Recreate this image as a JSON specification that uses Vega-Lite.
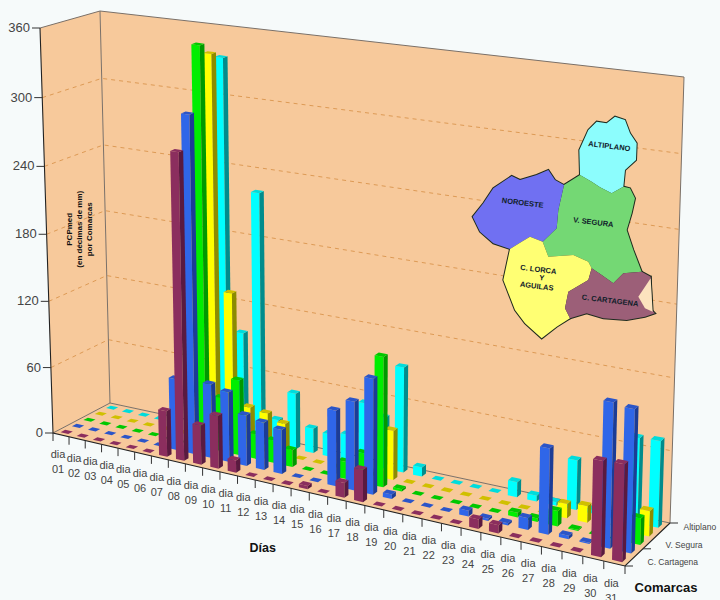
{"$schema":"https://vega.github.io/schema/vega-lite/v6.json","width":720,"height":600,"padding":0,"autosize":{"type":"none"},"background":"#F6FAFA","config":{"view":{"stroke":null}},
"data":{"values":[
{"capa":"pared","id":"suelo","dia":0.5,"com":-0.5,"valor":0,"orden":0},{"capa":"pared","id":"suelo","dia":31.5,"com":-0.5,"valor":0,"orden":1},{"capa":"pared","id":"suelo","dia":31.5,"com":4.5,"valor":0,"orden":2},{"capa":"pared","id":"suelo","dia":0.5,"com":4.5,"valor":0,"orden":3},
{"capa":"pared","id":"lateral","dia":0.5,"com":-0.5,"valor":0,"orden":0},{"capa":"pared","id":"lateral","dia":0.5,"com":4.5,"valor":0,"orden":1},{"capa":"pared","id":"lateral","dia":0.5,"com":4.5,"valor":360,"orden":2},{"capa":"pared","id":"lateral","dia":0.5,"com":-0.5,"valor":360,"orden":3},
{"capa":"pared","id":"fondo","dia":0.5,"com":4.5,"valor":0,"orden":0},{"capa":"pared","id":"fondo","dia":31.5,"com":4.5,"valor":0,"orden":1},{"capa":"pared","id":"fondo","dia":31.5,"com":4.5,"valor":360,"orden":2},{"capa":"pared","id":"fondo","dia":0.5,"com":4.5,"valor":360,"orden":3},
{"capa":"rejilla","id":"g60","dia":0.5,"com":-0.5,"valor":60,"orden":0},{"capa":"rejilla","id":"g60","dia":0.5,"com":4.5,"valor":60,"orden":1},{"capa":"rejilla","id":"g60","dia":31.5,"com":4.5,"valor":60,"orden":2},
{"capa":"rejilla","id":"g120","dia":0.5,"com":-0.5,"valor":120,"orden":0},{"capa":"rejilla","id":"g120","dia":0.5,"com":4.5,"valor":120,"orden":1},{"capa":"rejilla","id":"g120","dia":31.5,"com":4.5,"valor":120,"orden":2},
{"capa":"rejilla","id":"g180","dia":0.5,"com":-0.5,"valor":180,"orden":0},{"capa":"rejilla","id":"g180","dia":0.5,"com":4.5,"valor":180,"orden":1},{"capa":"rejilla","id":"g180","dia":31.5,"com":4.5,"valor":180,"orden":2},
{"capa":"rejilla","id":"g240","dia":0.5,"com":-0.5,"valor":240,"orden":0},{"capa":"rejilla","id":"g240","dia":0.5,"com":4.5,"valor":240,"orden":1},{"capa":"rejilla","id":"g240","dia":31.5,"com":4.5,"valor":240,"orden":2},
{"capa":"rejilla","id":"g300","dia":0.5,"com":-0.5,"valor":300,"orden":0},{"capa":"rejilla","id":"g300","dia":0.5,"com":4.5,"valor":300,"orden":1},{"capa":"rejilla","id":"g300","dia":31.5,"com":4.5,"valor":300,"orden":2},
{"capa":"borde","id":"b1","dia":0.5,"com":-0.5,"valor":360,"orden":0},{"capa":"borde","id":"b1","dia":0.5,"com":4.5,"valor":360,"orden":1},{"capa":"borde","id":"b1","dia":31.5,"com":4.5,"valor":360,"orden":2},{"capa":"borde","id":"b1","dia":31.5,"com":4.5,"valor":0,"orden":3},{"capa":"borde","id":"b1","dia":0.5,"com":4.5,"valor":0,"orden":4},{"capa":"borde","id":"b1","dia":0.5,"com":-0.5,"valor":0,"orden":5},
{"capa":"borde","id":"b2","dia":0.5,"com":4.5,"valor":360,"orden":0},{"capa":"borde","id":"b2","dia":0.5,"com":4.5,"valor":0,"orden":1},
{"capa":"eje","id":"e1","dia":0.5,"com":-0.5,"valor":360,"orden":0},{"capa":"eje","id":"e1","dia":0.5,"com":-0.5,"valor":0,"orden":1},{"capa":"eje","id":"e1","dia":31.5,"com":-0.5,"valor":0,"orden":2},{"capa":"eje","id":"e1","dia":31.5,"com":4.5,"valor":0,"orden":3},
{"capa":"ticky","dia":0.5,"com":-0.5,"valor":0,"texto":"0"},{"capa":"ticky","dia":0.5,"com":-0.5,"valor":60,"texto":"60"},{"capa":"ticky","dia":0.5,"com":-0.5,"valor":120,"texto":"120"},{"capa":"ticky","dia":0.5,"com":-0.5,"valor":180,"texto":"180"},{"capa":"ticky","dia":0.5,"com":-0.5,"valor":240,"texto":"240"},{"capa":"ticky","dia":0.5,"com":-0.5,"valor":300,"texto":"300"},{"capa":"ticky","dia":0.5,"com":-0.5,"valor":360,"texto":"360"},
{"capa":"tickx","dia":0.5,"com":-0.5,"valor":0},{"capa":"tickx","dia":1.5,"com":-0.5,"valor":0},{"capa":"tickx","dia":2.5,"com":-0.5,"valor":0},{"capa":"tickx","dia":3.5,"com":-0.5,"valor":0},{"capa":"tickx","dia":4.5,"com":-0.5,"valor":0},{"capa":"tickx","dia":5.5,"com":-0.5,"valor":0},{"capa":"tickx","dia":6.5,"com":-0.5,"valor":0},{"capa":"tickx","dia":7.5,"com":-0.5,"valor":0},{"capa":"tickx","dia":8.5,"com":-0.5,"valor":0},{"capa":"tickx","dia":9.5,"com":-0.5,"valor":0},{"capa":"tickx","dia":10.5,"com":-0.5,"valor":0},{"capa":"tickx","dia":11.5,"com":-0.5,"valor":0},{"capa":"tickx","dia":12.5,"com":-0.5,"valor":0},{"capa":"tickx","dia":13.5,"com":-0.5,"valor":0},{"capa":"tickx","dia":14.5,"com":-0.5,"valor":0},{"capa":"tickx","dia":15.5,"com":-0.5,"valor":0},{"capa":"tickx","dia":16.5,"com":-0.5,"valor":0},{"capa":"tickx","dia":17.5,"com":-0.5,"valor":0},{"capa":"tickx","dia":18.5,"com":-0.5,"valor":0},{"capa":"tickx","dia":19.5,"com":-0.5,"valor":0},{"capa":"tickx","dia":20.5,"com":-0.5,"valor":0},{"capa":"tickx","dia":21.5,"com":-0.5,"valor":0},{"capa":"tickx","dia":22.5,"com":-0.5,"valor":0},{"capa":"tickx","dia":23.5,"com":-0.5,"valor":0},{"capa":"tickx","dia":24.5,"com":-0.5,"valor":0},{"capa":"tickx","dia":25.5,"com":-0.5,"valor":0},{"capa":"tickx","dia":26.5,"com":-0.5,"valor":0},{"capa":"tickx","dia":27.5,"com":-0.5,"valor":0},{"capa":"tickx","dia":28.5,"com":-0.5,"valor":0},{"capa":"tickx","dia":29.5,"com":-0.5,"valor":0},{"capa":"tickx","dia":30.5,"com":-0.5,"valor":0},{"capa":"tickx","dia":31.5,"com":-0.5,"valor":0},
{"capa":"etx","dia":1,"com":-0.5,"valor":0,"texto":"dia\n01"},{"capa":"etx","dia":2,"com":-0.5,"valor":0,"texto":"dia\n02"},{"capa":"etx","dia":3,"com":-0.5,"valor":0,"texto":"dia\n03"},{"capa":"etx","dia":4,"com":-0.5,"valor":0,"texto":"dia\n04"},{"capa":"etx","dia":5,"com":-0.5,"valor":0,"texto":"dia\n05"},{"capa":"etx","dia":6,"com":-0.5,"valor":0,"texto":"dia\n06"},{"capa":"etx","dia":7,"com":-0.5,"valor":0,"texto":"dia\n07"},{"capa":"etx","dia":8,"com":-0.5,"valor":0,"texto":"dia\n08"},{"capa":"etx","dia":9,"com":-0.5,"valor":0,"texto":"dia\n09"},{"capa":"etx","dia":10,"com":-0.5,"valor":0,"texto":"dia\n10"},{"capa":"etx","dia":11,"com":-0.5,"valor":0,"texto":"dia\n11"},{"capa":"etx","dia":12,"com":-0.5,"valor":0,"texto":"dia\n12"},{"capa":"etx","dia":13,"com":-0.5,"valor":0,"texto":"dia\n13"},{"capa":"etx","dia":14,"com":-0.5,"valor":0,"texto":"dia\n14"},{"capa":"etx","dia":15,"com":-0.5,"valor":0,"texto":"dia\n15"},{"capa":"etx","dia":16,"com":-0.5,"valor":0,"texto":"dia\n16"},{"capa":"etx","dia":17,"com":-0.5,"valor":0,"texto":"dia\n17"},{"capa":"etx","dia":18,"com":-0.5,"valor":0,"texto":"dia\n18"},{"capa":"etx","dia":19,"com":-0.5,"valor":0,"texto":"dia\n19"},{"capa":"etx","dia":20,"com":-0.5,"valor":0,"texto":"dia\n20"},{"capa":"etx","dia":21,"com":-0.5,"valor":0,"texto":"dia\n21"},{"capa":"etx","dia":22,"com":-0.5,"valor":0,"texto":"dia\n22"},{"capa":"etx","dia":23,"com":-0.5,"valor":0,"texto":"dia\n23"},{"capa":"etx","dia":24,"com":-0.5,"valor":0,"texto":"dia\n24"},{"capa":"etx","dia":25,"com":-0.5,"valor":0,"texto":"dia\n25"},{"capa":"etx","dia":26,"com":-0.5,"valor":0,"texto":"dia\n26"},{"capa":"etx","dia":27,"com":-0.5,"valor":0,"texto":"dia\n27"},{"capa":"etx","dia":28,"com":-0.5,"valor":0,"texto":"dia\n28"},{"capa":"etx","dia":29,"com":-0.5,"valor":0,"texto":"dia\n29"},{"capa":"etx","dia":30,"com":-0.5,"valor":0,"texto":"dia\n30"},{"capa":"etx","dia":31,"com":-0.5,"valor":0,"texto":"dia\n31"},
{"capa":"etz","dia":31.5,"com":0,"valor":0,"texto":"C. Cartagena"},{"capa":"etz","dia":31.5,"com":2,"valor":0,"texto":"V. Segura"},{"capa":"etz","dia":31.5,"com":4,"valor":0,"texto":"Altiplano"},
{"capa":"tickz","dia":31.5,"com":-0.5,"valor":0},{"capa":"tickz","dia":31.5,"com":1.5,"valor":0},{"capa":"tickz","dia":31.5,"com":4.5,"valor":0},
{"capa":"tdias","dia":13.2,"com":-0.5,"valor":0,"texto":"Días"},{"capa":"tcom","dia":31.5,"com":-0.5,"valor":0,"texto":"Comarcas"},
{"capa":"ty","dia":0.5,"com":1.5,"valor":176,"texto":"PCPmed\n(en décimas de mm)\npor Comarcas"},
{"capa":"barra","dia":1,"comarca":"Altiplano","valor":0},{"capa":"barra","dia":2,"comarca":"Altiplano","valor":0},{"capa":"barra","dia":3,"comarca":"Altiplano","valor":0},{"capa":"barra","dia":4,"comarca":"Altiplano","valor":0},{"capa":"barra","dia":5,"comarca":"Altiplano","valor":0},{"capa":"barra","dia":6,"comarca":"Altiplano","valor":0},{"capa":"barra","dia":7,"comarca":"Altiplano","valor":0},{"capa":"barra","dia":8,"comarca":"Altiplano","valor":335},{"capa":"barra","dia":9,"comarca":"Altiplano","valor":95},{"capa":"barra","dia":10,"comarca":"Altiplano","valor":222},{"capa":"barra","dia":11,"comarca":"Altiplano","valor":23},{"capa":"barra","dia":12,"comarca":"Altiplano","valor":50},{"capa":"barra","dia":13,"comarca":"Altiplano","valor":22},{"capa":"barra","dia":14,"comarca":"Altiplano","valor":20},{"capa":"barra","dia":15,"comarca":"Altiplano","valor":23},{"capa":"barra","dia":16,"comarca":"Altiplano","valor":54},{"capa":"barra","dia":17,"comarca":"Altiplano","valor":45},{"capa":"barra","dia":18,"comarca":"Altiplano","valor":92},{"capa":"barra","dia":19,"comarca":"Altiplano","valor":8},{"capa":"barra","dia":20,"comarca":"Altiplano","valor":0},{"capa":"barra","dia":21,"comarca":"Altiplano","valor":0},{"capa":"barra","dia":22,"comarca":"Altiplano","valor":0},{"capa":"barra","dia":23,"comarca":"Altiplano","valor":0},{"capa":"barra","dia":24,"comarca":"Altiplano","valor":13},{"capa":"barra","dia":25,"comarca":"Altiplano","valor":5},{"capa":"barra","dia":26,"comarca":"Altiplano","valor":3},{"capa":"barra","dia":27,"comarca":"Altiplano","valor":42},{"capa":"barra","dia":28,"comarca":"Altiplano","valor":3},{"capa":"barra","dia":29,"comarca":"Altiplano","valor":0},{"capa":"barra","dia":30,"comarca":"Altiplano","valor":71},{"capa":"barra","dia":31,"comarca":"Altiplano","valor":72},
{"capa":"barra","dia":1,"comarca":"Noroeste","valor":0},{"capa":"barra","dia":2,"comarca":"Noroeste","valor":0},{"capa":"barra","dia":3,"comarca":"Noroeste","valor":0},{"capa":"barra","dia":4,"comarca":"Noroeste","valor":0},{"capa":"barra","dia":5,"comarca":"Noroeste","valor":0},{"capa":"barra","dia":6,"comarca":"Noroeste","valor":0},{"capa":"barra","dia":7,"comarca":"Noroeste","valor":0},{"capa":"barra","dia":8,"comarca":"Noroeste","valor":342},{"capa":"barra","dia":9,"comarca":"Noroeste","valor":136},{"capa":"barra","dia":10,"comarca":"Noroeste","valor":37},{"capa":"barra","dia":11,"comarca":"Noroeste","valor":35},{"capa":"barra","dia":12,"comarca":"Noroeste","valor":29},{"capa":"barra","dia":13,"comarca":"Noroeste","valor":0},{"capa":"barra","dia":14,"comarca":"Noroeste","valor":0},{"capa":"barra","dia":15,"comarca":"Noroeste","valor":0},{"capa":"barra","dia":16,"comarca":"Noroeste","valor":0},{"capa":"barra","dia":17,"comarca":"Noroeste","valor":0},{"capa":"barra","dia":18,"comarca":"Noroeste","valor":43},{"capa":"barra","dia":19,"comarca":"Noroeste","valor":0},{"capa":"barra","dia":20,"comarca":"Noroeste","valor":0},{"capa":"barra","dia":21,"comarca":"Noroeste","valor":0},{"capa":"barra","dia":22,"comarca":"Noroeste","valor":0},{"capa":"barra","dia":23,"comarca":"Noroeste","valor":0},{"capa":"barra","dia":24,"comarca":"Noroeste","valor":0},{"capa":"barra","dia":25,"comarca":"Noroeste","valor":0},{"capa":"barra","dia":26,"comarca":"Noroeste","valor":0},{"capa":"barra","dia":27,"comarca":"Noroeste","valor":12},{"capa":"barra","dia":28,"comarca":"Noroeste","valor":14},{"capa":"barra","dia":29,"comarca":"Noroeste","valor":0},{"capa":"barra","dia":30,"comarca":"Noroeste","valor":0},{"capa":"barra","dia":31,"comarca":"Noroeste","valor":21},
{"capa":"barra","dia":1,"comarca":"V. Segura","valor":0},{"capa":"barra","dia":2,"comarca":"V. Segura","valor":0},{"capa":"barra","dia":3,"comarca":"V. Segura","valor":0},{"capa":"barra","dia":4,"comarca":"V. Segura","valor":0},{"capa":"barra","dia":5,"comarca":"V. Segura","valor":0},{"capa":"barra","dia":6,"comarca":"V. Segura","valor":0},{"capa":"barra","dia":7,"comarca":"V. Segura","valor":0},{"capa":"barra","dia":8,"comarca":"V. Segura","valor":353},{"capa":"barra","dia":9,"comarca":"V. Segura","valor":48},{"capa":"barra","dia":10,"comarca":"V. Segura","valor":67},{"capa":"barra","dia":11,"comarca":"V. Segura","valor":22},{"capa":"barra","dia":12,"comarca":"V. Segura","valor":20},{"capa":"barra","dia":13,"comarca":"V. Segura","valor":15},{"capa":"barra","dia":14,"comarca":"V. Segura","valor":0},{"capa":"barra","dia":15,"comarca":"V. Segura","valor":0},{"capa":"barra","dia":16,"comarca":"V. Segura","valor":15},{"capa":"barra","dia":17,"comarca":"V. Segura","valor":26},{"capa":"barra","dia":18,"comarca":"V. Segura","valor":113},{"capa":"barra","dia":19,"comarca":"V. Segura","valor":2},{"capa":"barra","dia":20,"comarca":"V. Segura","valor":0},{"capa":"barra","dia":21,"comarca":"V. Segura","valor":0},{"capa":"barra","dia":22,"comarca":"V. Segura","valor":0},{"capa":"barra","dia":23,"comarca":"V. Segura","valor":0},{"capa":"barra","dia":24,"comarca":"V. Segura","valor":0},{"capa":"barra","dia":25,"comarca":"V. Segura","valor":4},{"capa":"barra","dia":26,"comarca":"V. Segura","valor":3},{"capa":"barra","dia":27,"comarca":"V. Segura","valor":13},{"capa":"barra","dia":28,"comarca":"V. Segura","valor":1},{"capa":"barra","dia":29,"comarca":"V. Segura","valor":0},{"capa":"barra","dia":30,"comarca":"V. Segura","valor":0},{"capa":"barra","dia":31,"comarca":"V. Segura","valor":22},
{"capa":"barra","dia":1,"comarca":"C. Lorca","valor":0},{"capa":"barra","dia":2,"comarca":"C. Lorca","valor":0},{"capa":"barra","dia":3,"comarca":"C. Lorca","valor":0},{"capa":"barra","dia":4,"comarca":"C. Lorca","valor":0},{"capa":"barra","dia":5,"comarca":"C. Lorca","valor":0},{"capa":"barra","dia":6,"comarca":"C. Lorca","valor":0},{"capa":"barra","dia":7,"comarca":"C. Lorca","valor":64},{"capa":"barra","dia":8,"comarca":"C. Lorca","valor":298},{"capa":"barra","dia":9,"comarca":"C. Lorca","valor":66},{"capa":"barra","dia":10,"comarca":"C. Lorca","valor":62},{"capa":"barra","dia":11,"comarca":"C. Lorca","valor":45},{"capa":"barra","dia":12,"comarca":"C. Lorca","valor":42},{"capa":"barra","dia":13,"comarca":"C. Lorca","valor":39},{"capa":"barra","dia":14,"comarca":"C. Lorca","valor":0},{"capa":"barra","dia":15,"comarca":"C. Lorca","valor":0},{"capa":"barra","dia":16,"comarca":"C. Lorca","valor":66},{"capa":"barra","dia":17,"comarca":"C. Lorca","valor":77},{"capa":"barra","dia":18,"comarca":"C. Lorca","valor":100},{"capa":"barra","dia":19,"comarca":"C. Lorca","valor":4},{"capa":"barra","dia":20,"comarca":"C. Lorca","valor":0},{"capa":"barra","dia":21,"comarca":"C. Lorca","valor":0},{"capa":"barra","dia":22,"comarca":"C. Lorca","valor":0},{"capa":"barra","dia":23,"comarca":"C. Lorca","valor":5},{"capa":"barra","dia":24,"comarca":"C. Lorca","valor":2},{"capa":"barra","dia":25,"comarca":"C. Lorca","valor":2},{"capa":"barra","dia":26,"comarca":"C. Lorca","valor":10},{"capa":"barra","dia":27,"comarca":"C. Lorca","valor":72},{"capa":"barra","dia":28,"comarca":"C. Lorca","valor":3},{"capa":"barra","dia":29,"comarca":"C. Lorca","valor":1},{"capa":"barra","dia":30,"comarca":"C. Lorca","valor":120},{"capa":"barra","dia":31,"comarca":"C. Lorca","valor":118},
{"capa":"barra","dia":1,"comarca":"C. Cartagena","valor":0},{"capa":"barra","dia":2,"comarca":"C. Cartagena","valor":0},{"capa":"barra","dia":3,"comarca":"C. Cartagena","valor":0},{"capa":"barra","dia":4,"comarca":"C. Cartagena","valor":0},{"capa":"barra","dia":5,"comarca":"C. Cartagena","valor":0},{"capa":"barra","dia":6,"comarca":"C. Cartagena","valor":0},{"capa":"barra","dia":7,"comarca":"C. Cartagena","valor":41},{"capa":"barra","dia":8,"comarca":"C. Cartagena","valor":270},{"capa":"barra","dia":9,"comarca":"C. Cartagena","valor":35},{"capa":"barra","dia":10,"comarca":"C. Cartagena","valor":47},{"capa":"barra","dia":11,"comarca":"C. Cartagena","valor":11},{"capa":"barra","dia":12,"comarca":"C. Cartagena","valor":0},{"capa":"barra","dia":13,"comarca":"C. Cartagena","valor":0},{"capa":"barra","dia":14,"comarca":"C. Cartagena","valor":0},{"capa":"barra","dia":15,"comarca":"C. Cartagena","valor":3},{"capa":"barra","dia":16,"comarca":"C. Cartagena","valor":0},{"capa":"barra","dia":17,"comarca":"C. Cartagena","valor":13},{"capa":"barra","dia":18,"comarca":"C. Cartagena","valor":28},{"capa":"barra","dia":19,"comarca":"C. Cartagena","valor":0},{"capa":"barra","dia":20,"comarca":"C. Cartagena","valor":0},{"capa":"barra","dia":21,"comarca":"C. Cartagena","valor":0},{"capa":"barra","dia":22,"comarca":"C. Cartagena","valor":0},{"capa":"barra","dia":23,"comarca":"C. Cartagena","valor":0},{"capa":"barra","dia":24,"comarca":"C. Cartagena","valor":8},{"capa":"barra","dia":25,"comarca":"C. Cartagena","valor":7},{"capa":"barra","dia":26,"comarca":"C. Cartagena","valor":0},{"capa":"barra","dia":27,"comarca":"C. Cartagena","valor":0},{"capa":"barra","dia":28,"comarca":"C. Cartagena","valor":0},{"capa":"barra","dia":29,"comarca":"C. Cartagena","valor":0},{"capa":"barra","dia":30,"comarca":"C. Cartagena","valor":79},{"capa":"barra","dia":31,"comarca":"C. Cartagena","valor":80},
{"capa":"mapa","id":"Altiplano","mx":360,"my":225,"orden":0},{"capa":"mapa","id":"Altiplano","mx":358,"my":150,"orden":1},{"capa":"mapa","id":"Altiplano","mx":385,"my":90,"orden":2},{"capa":"mapa","id":"Altiplano","mx":410,"my":65,"orden":3},{"capa":"mapa","id":"Altiplano","mx":440,"my":70,"orden":4},{"capa":"mapa","id":"Altiplano","mx":465,"my":50,"orden":5},{"capa":"mapa","id":"Altiplano","mx":495,"my":60,"orden":6},{"capa":"mapa","id":"Altiplano","mx":510,"my":100,"orden":7},{"capa":"mapa","id":"Altiplano","mx":530,"my":130,"orden":8},{"capa":"mapa","id":"Altiplano","mx":528,"my":180,"orden":9},{"capa":"mapa","id":"Altiplano","mx":495,"my":210,"orden":10},{"capa":"mapa","id":"Altiplano","mx":490,"my":260,"orden":11},{"capa":"mapa","id":"Altiplano","mx":455,"my":280,"orden":12},{"capa":"mapa","id":"Altiplano","mx":420,"my":262,"orden":13},{"capa":"mapa","id":"Altiplano","mx":395,"my":245,"orden":14},
{"capa":"mapa","id":"Segura","mx":360,"my":225,"orden":0},{"capa":"mapa","id":"Segura","mx":395,"my":245,"orden":1},{"capa":"mapa","id":"Segura","mx":420,"my":262,"orden":2},{"capa":"mapa","id":"Segura","mx":455,"my":280,"orden":3},{"capa":"mapa","id":"Segura","mx":490,"my":260,"orden":4},{"capa":"mapa","id":"Segura","mx":510,"my":265,"orden":5},{"capa":"mapa","id":"Segura","mx":525,"my":295,"orden":6},{"capa":"mapa","id":"Segura","mx":515,"my":340,"orden":7},{"capa":"mapa","id":"Segura","mx":500,"my":390,"orden":8},{"capa":"mapa","id":"Segura","mx":520,"my":450,"orden":9},{"capa":"mapa","id":"Segura","mx":545,"my":515,"orden":10},{"capa":"mapa","id":"Segura","mx":490,"my":520,"orden":11},{"capa":"mapa","id":"Segura","mx":460,"my":550,"orden":12},{"capa":"mapa","id":"Segura","mx":425,"my":525,"orden":13},{"capa":"mapa","id":"Segura","mx":395,"my":505,"orden":14},{"capa":"mapa","id":"Segura","mx":385,"my":485,"orden":15},{"capa":"mapa","id":"Segura","mx":340,"my":465,"orden":16},{"capa":"mapa","id":"Segura","mx":265,"my":470,"orden":17},{"capa":"mapa","id":"Segura","mx":248,"my":425,"orden":18},{"capa":"mapa","id":"Segura","mx":290,"my":385,"orden":19},{"capa":"mapa","id":"Segura","mx":295,"my":330,"orden":20},{"capa":"mapa","id":"Segura","mx":312,"my":255,"orden":21},
{"capa":"mapa","id":"Noroeste","mx":312,"my":255,"orden":0},{"capa":"mapa","id":"Noroeste","mx":285,"my":240,"orden":1},{"capa":"mapa","id":"Noroeste","mx":265,"my":210,"orden":2},{"capa":"mapa","id":"Noroeste","mx":230,"my":225,"orden":3},{"capa":"mapa","id":"Noroeste","mx":180,"my":240,"orden":4},{"capa":"mapa","id":"Noroeste","mx":155,"my":228,"orden":5},{"capa":"mapa","id":"Noroeste","mx":100,"my":265,"orden":6},{"capa":"mapa","id":"Noroeste","mx":70,"my":310,"orden":7},{"capa":"mapa","id":"Noroeste","mx":38,"my":350,"orden":8},{"capa":"mapa","id":"Noroeste","mx":60,"my":395,"orden":9},{"capa":"mapa","id":"Noroeste","mx":100,"my":430,"orden":10},{"capa":"mapa","id":"Noroeste","mx":150,"my":447,"orden":11},{"capa":"mapa","id":"Noroeste","mx":185,"my":425,"orden":12},{"capa":"mapa","id":"Noroeste","mx":210,"my":410,"orden":13},{"capa":"mapa","id":"Noroeste","mx":248,"my":425,"orden":14},{"capa":"mapa","id":"Noroeste","mx":290,"my":385,"orden":15},{"capa":"mapa","id":"Noroeste","mx":295,"my":330,"orden":16},
{"capa":"mapa","id":"Lorca","mx":150,"my":447,"orden":0},{"capa":"mapa","id":"Lorca","mx":185,"my":425,"orden":1},{"capa":"mapa","id":"Lorca","mx":210,"my":410,"orden":2},{"capa":"mapa","id":"Lorca","mx":248,"my":425,"orden":3},{"capa":"mapa","id":"Lorca","mx":265,"my":470,"orden":4},{"capa":"mapa","id":"Lorca","mx":340,"my":465,"orden":5},{"capa":"mapa","id":"Lorca","mx":385,"my":485,"orden":6},{"capa":"mapa","id":"Lorca","mx":395,"my":505,"orden":7},{"capa":"mapa","id":"Lorca","mx":385,"my":540,"orden":8},{"capa":"mapa","id":"Lorca","mx":325,"my":575,"orden":9},{"capa":"mapa","id":"Lorca","mx":315,"my":625,"orden":10},{"capa":"mapa","id":"Lorca","mx":330,"my":655,"orden":11},{"capa":"mapa","id":"Lorca","mx":290,"my":680,"orden":12},{"capa":"mapa","id":"Lorca","mx":245,"my":715,"orden":13},{"capa":"mapa","id":"Lorca","mx":195,"my":670,"orden":14},{"capa":"mapa","id":"Lorca","mx":165,"my":630,"orden":15},{"capa":"mapa","id":"Lorca","mx":130,"my":540,"orden":16},
{"capa":"mapa","id":"Cartagena","mx":395,"my":505,"orden":0},{"capa":"mapa","id":"Cartagena","mx":425,"my":525,"orden":1},{"capa":"mapa","id":"Cartagena","mx":460,"my":550,"orden":2},{"capa":"mapa","id":"Cartagena","mx":490,"my":520,"orden":3},{"capa":"mapa","id":"Cartagena","mx":545,"my":515,"orden":4},{"capa":"mapa","id":"Cartagena","mx":572,"my":530,"orden":5},{"capa":"mapa","id":"Cartagena","mx":575,"my":630,"orden":6},{"capa":"mapa","id":"Cartagena","mx":585,"my":640,"orden":7},{"capa":"mapa","id":"Cartagena","mx":555,"my":650,"orden":8},{"capa":"mapa","id":"Cartagena","mx":500,"my":660,"orden":9},{"capa":"mapa","id":"Cartagena","mx":430,"my":655,"orden":10},{"capa":"mapa","id":"Cartagena","mx":380,"my":640,"orden":11},{"capa":"mapa","id":"Cartagena","mx":330,"my":655,"orden":12},{"capa":"mapa","id":"Cartagena","mx":315,"my":625,"orden":13},{"capa":"mapa","id":"Cartagena","mx":325,"my":575,"orden":14},{"capa":"mapa","id":"Cartagena","mx":385,"my":540,"orden":15},
{"capa":"mapa","id":"MarMenor","mx":572,"my":535,"orden":0},{"capa":"mapa","id":"MarMenor","mx":535,"my":590,"orden":1},{"capa":"mapa","id":"MarMenor","mx":555,"my":625,"orden":2},{"capa":"mapa","id":"MarMenor","mx":578,"my":635,"orden":3},
{"capa":"txtmapa","mx":448,"my":140,"texto":"ALTIPLANO"},{"capa":"txtmapa","mx":188,"my":310,"texto":"NOROESTE"},{"capa":"txtmapa","mx":400,"my":368,"texto":"V. SEGURA"},{"capa":"txtmapa","mx":235,"my":510,"texto":"C. LORCA"},{"capa":"txtmapa","mx":245,"my":535,"texto":"Y"},{"capa":"txtmapa","mx":230,"my":560,"texto":"AGUILAS"},{"capa":"txtmapa","mx":450,"my":603,"texto":"C. CARTAGENA"}
]},
"transform":[
{"calculate":"datum.capa=='barra'?[[0,-1,-1,0,0],[0,1,-1,0,1],[0,1,-1,1,2],[0,-1,-1,1,3],[1,1,-1,0,0],[1,1,1,0,1],[1,1,1,1,2],[1,1,-1,1,3],[2,-1,-1,1,0],[2,1,-1,1,1],[2,1,1,1,2],[2,-1,1,1,3]]:[[0,0,0,1,datum.orden||0]]","as":"v"},
{"flatten":["v"]},
{"calculate":"datum.comarca?indexof(['C. Cartagena','C. Lorca','V. Segura','Noroeste','Altiplano'],datum.comarca):datum.com","as":"cnum"},
{"calculate":"(datum.dia+datum.v[1]*0.24-0.5)/31","as":"uu"},
{"calculate":"datum.uu/(datum.uu+1.155*(1-datum.uu))","as":"tt"},
{"calculate":"(datum.cnum+datum.v[2]*0.2+0.5)/5","as":"vv"},
{"calculate":"datum.valor*datum.v[3]/360","as":"hh"},
{"calculate":"datum.hh/(datum.hh+1.038*(1-datum.hh))","as":"ss"},
{"calculate":"(1-datum.vv)*((1-datum.tt)*53+datum.tt*625)+datum.vv*((1-datum.tt)*110+datum.tt*670)","as":"fx"},
{"calculate":"(1-datum.vv)*((1-datum.tt)*433+datum.tt*566)+datum.vv*((1-datum.tt)*403+datum.tt*523)","as":"fy"},
{"calculate":"(1-datum.vv)*((1-datum.tt)*40+datum.tt*636)+datum.vv*((1-datum.tt)*100+datum.tt*684)","as":"gx"},
{"calculate":"(1-datum.vv)*((1-datum.tt)*28+datum.tt*112)+datum.vv*((1-datum.tt)*11+datum.tt*77)","as":"gy"},
{"calculate":"datum.mx>=0?460+datum.mx/3:datum.fx+(datum.gx-datum.fx)*datum.ss","as":"px"},
{"calculate":"datum.my>=0?100+datum.my/3:datum.fy+(datum.gy-datum.fy)*datum.ss","as":"py"},
{"calculate":"datum.id||('b'+datum.dia+'_'+datum.cnum+'_'+datum.v[0])","as":"grupo"},
{"calculate":"datum.comarca+'|'+datum.v[0]","as":"tono"},
{"calculate":"datum.v[4]","as":"seq"}
],
"encoding":{"x":{"field":"px","type":"quantitative","scale":{"domain":[0,720],"nice":false,"zero":false},"axis":null},"y":{"field":"py","type":"quantitative","scale":{"domain":[600,0],"nice":false,"zero":false},"axis":null}},
"layer":[
{"transform":[{"filter":"datum.capa=='pared'"}],"mark":{"type":"line","filled":true,"color":"#F7C99B"},"encoding":{"detail":{"field":"grupo"},"order":{"field":"seq","type":"quantitative"}}},
{"transform":[{"filter":"datum.capa=='rejilla'"}],"mark":{"type":"line","color":"#DD9A55","strokeWidth":1,"strokeDash":[4,4]},"encoding":{"detail":{"field":"grupo"},"order":{"field":"seq","type":"quantitative"}}},
{"transform":[{"filter":"datum.capa=='borde'"}],"mark":{"type":"line","color":"#7A7068","strokeWidth":1},"encoding":{"detail":{"field":"grupo"},"order":{"field":"seq","type":"quantitative"}}},
{"transform":[{"filter":"datum.capa=='eje'"}],"mark":{"type":"line","color":"#222222","strokeWidth":1.1},"encoding":{"detail":{"field":"grupo"},"order":{"field":"seq","type":"quantitative"}}},
{"transform":[{"filter":"datum.capa=='tickx'"},{"calculate":"datum.py+8","as":"py2"}],"mark":{"type":"rule","color":"#333333","strokeWidth":1},"encoding":{"y2":{"field":"py2"}}},
{"transform":[{"filter":"datum.capa=='ticky'"},{"calculate":"datum.px-8","as":"px2"}],"mark":{"type":"rule","color":"#333333","strokeWidth":1},"encoding":{"x2":{"field":"px2"}}},
{"transform":[{"filter":"datum.capa=='tickz'"},{"calculate":"datum.px+8","as":"px2"}],"mark":{"type":"rule","color":"#333333","strokeWidth":1},"encoding":{"x2":{"field":"px2"}}},
{"transform":[{"filter":"datum.capa=='barra'"}],"mark":{"type":"line","filled":true},"encoding":{"detail":{"field":"grupo"},"order":{"field":"seq","type":"quantitative"},"color":{"field":"tono","type":"nominal","legend":null,"scale":{"domain":["C. Cartagena|0","C. Cartagena|1","C. Cartagena|2","C. Lorca|0","C. Lorca|1","C. Lorca|2","V. Segura|0","V. Segura|1","V. Segura|2","Noroeste|0","Noroeste|1","Noroeste|2","Altiplano|0","Altiplano|1","Altiplano|2"],"range":["#8B2E5E","#5A1A40","#8B2E5E","#2F66E8","#1C3C96","#2B55C8","#00EE00","#009900","#00C800","#FFFF00","#8C8C00","#D0C000","#00FFFF","#008C8C","#00DCDC"]}}}},
{"transform":[{"filter":"datum.capa=='mapa'"}],"mark":{"type":"line","interpolate":"linear-closed","color":"#1E2A1E","strokeWidth":2},"encoding":{"detail":{"field":"grupo"},"order":{"field":"seq","type":"quantitative"}}},
{"transform":[{"filter":"datum.capa=='mapa'"}],"mark":{"type":"line","filled":true,"interpolate":"linear-closed"},"encoding":{"detail":{"field":"grupo"},"order":{"field":"seq","type":"quantitative"},"color":{"field":"grupo","type":"nominal","legend":null,"scale":{"domain":["Altiplano","Segura","Noroeste","Lorca","Cartagena","MarMenor"],"range":["#8CFDFD","#74D874","#7070F2","#FFFF73","#9C5F78","#FCE3BE"]}}}},
{"transform":[{"filter":"datum.capa=='txtmapa'"}],"mark":{"type":"text","font":"Liberation Sans","fontSize":7.5,"fontWeight":"bold","angle":7,"color":"#10202A"},"encoding":{"text":{"field":"texto"}}},
{"transform":[{"filter":"datum.capa=='ticky'"}],"mark":{"type":"text","font":"Liberation Sans","fontSize":13,"align":"right","baseline":"middle","dx":-10,"color":"#444444"},"encoding":{"text":{"field":"texto"}}},
{"transform":[{"filter":"datum.capa=='etx'"}],"mark":{"type":"text","font":"Liberation Sans","fontSize":11,"align":"center","baseline":"top","dx":-3,"dy":14,"lineBreak":"\n","lineHeight":15,"color":"#444444"},"encoding":{"text":{"field":"texto"}}},
{"transform":[{"filter":"datum.capa=='etz'"}],"mark":{"type":"text","font":"Liberation Sans","fontSize":8.5,"align":"left","baseline":"middle","dx":18,"color":"#444444"},"encoding":{"text":{"field":"texto"}}},
{"transform":[{"filter":"datum.capa=='tdias'"}],"mark":{"type":"text","font":"Liberation Sans","fontSize":12.5,"fontWeight":"bold","align":"center","baseline":"middle","dx":-5,"dy":65,"color":"#111111"},"encoding":{"text":{"field":"texto"}}},
{"transform":[{"filter":"datum.capa=='tcom'"}],"mark":{"type":"text","font":"Liberation Sans","fontSize":13,"fontWeight":"bold","align":"center","baseline":"middle","dx":41,"dy":22,"color":"#111111"},"encoding":{"text":{"field":"texto"}}},
{"transform":[{"filter":"datum.capa=='ty'"}],"mark":{"type":"text","font":"Liberation Sans","fontSize":8,"fontWeight":"bold","align":"center","baseline":"middle","angle":270,"lineBreak":"\n","lineHeight":10,"color":"#111111"},"encoding":{"text":{"field":"texto"}}}
],
"resolve":{"scale":{"color":"independent"}}}
